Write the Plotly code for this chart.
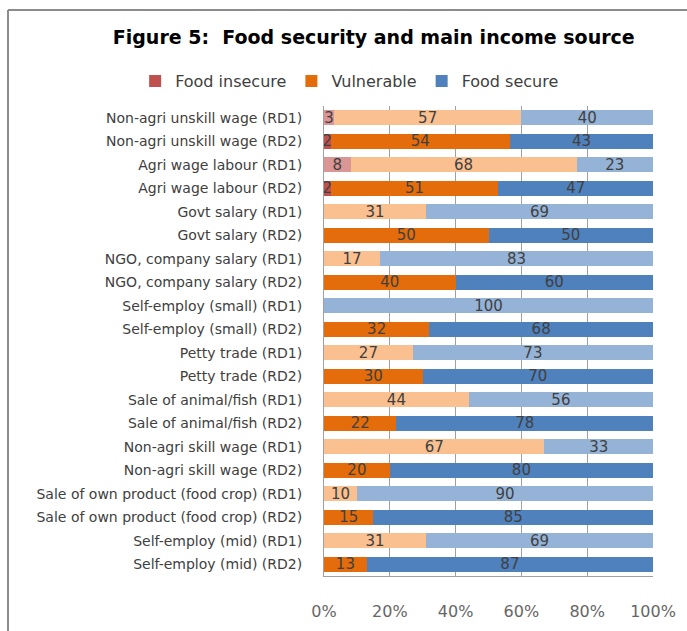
import plotly.graph_objects as go

categories = [
    "Non-agri unskill wage (RD1)", "Non-agri unskill wage (RD2)",
    "Agri wage labour (RD1)", "Agri wage labour (RD2)",
    "Govt salary (RD1)", "Govt salary (RD2)",
    "NGO, company salary (RD1)", "NGO, company salary (RD2)",
    "Self-employ (small) (RD1)", "Self-employ (small) (RD2)",
    "Petty trade (RD1)", "Petty trade (RD2)",
    "Sale of animal/fish (RD1)", "Sale of animal/fish (RD2)",
    "Non-agri skill wage (RD1)", "Non-agri skill wage (RD2)",
    "Sale of own product (food crop) (RD1)", "Sale of own product (food crop) (RD2)",
    "Self-employ (mid) (RD1)", "Self-employ (mid) (RD2)",
]
food_insecure = [3, 2, 8, 2, 0, 0, 0, 0, 0, 0, 0, 0, 0, 0, 0, 0, 0, 0, 0, 0]
vulnerable = [57, 54, 68, 51, 31, 50, 17, 40, 0, 32, 27, 30, 44, 22, 67, 20, 10, 15, 31, 13]
food_secure = [40, 43, 23, 47, 69, 50, 83, 60, 100, 68, 73, 70, 56, 78, 33, 80, 90, 85, 69, 87]
x_ticks = [0, 20, 40, 60, 80, 100]
x_tick_labels = ["0%", "20%", "40%", "60%", "80%", "100%"]

series = [
    ("Food insecure", food_insecure, "#D99694", "#C0504D"),
    ("Vulnerable", vulnerable, "#FAC090", "#E46C0A"),
    ("Food secure", food_secure, "#95B3D7", "#4F81BD"),
]

TXT = "#404040"
FONT = "DejaVu Sans"

fig = go.Figure()
for name, vals, light, dark in series:
    for rd, color, show in (("RD1", light, False), ("RD2", dark, True)):
        cats = [c for c in categories if c.endswith("(%s)" % rd)]
        v = [vals[categories.index(c)] for c in cats]
        fig.add_trace(go.Bar(
            y=cats, x=v, orientation="h", name=name,
            marker=dict(color=color, line=dict(width=0)),
            text=[str(a) if a else "" for a in v],
            textposition="inside", insidetextanchor="middle",
            textangle=0, constraintext="none",
            textfont=dict(family=FONT, size=15, color=TXT),
            showlegend=show, legendgroup=name,
        ))

frame = dict(color="#8C8C8C", width=2)
fig.update_layout(
    width=687, height=631,
    margin=dict(l=324, r=34, t=106, b=55, autoexpand=False),
    barmode="stack", barnorm="percent", bargap=0.36,
    paper_bgcolor="white", plot_bgcolor="white",
    font=dict(family=FONT, color=TXT),
    title=dict(text="<b>Figure 5:  Food security and main income source</b>",
               xref="container", yref="container", x=0.544, y=0.941,
               xanchor="center", yanchor="middle",
               font=dict(family=FONT, size=19, color="black")),
    legend=dict(orientation="h", xref="paper", yref="paper",
                x=-0.574, y=1.053, xanchor="left", yanchor="middle",
                font=dict(family=FONT, size=16, color=TXT),
                itemwidth=30, traceorder="normal", bgcolor="rgba(0,0,0,0)"),
    xaxis=dict(range=[0, 100], tickvals=x_ticks, ticktext=x_tick_labels,
               showgrid=True, gridcolor="#A0A0A0", gridwidth=1,
               showline=True, linecolor="#A0A0A0", linewidth=1,
               ticks="outside", ticklen=21, tickcolor="rgba(0,0,0,0)",
               tickfont=dict(family=FONT, size=16, color="#666666"),
               zeroline=False, fixedrange=True),
    yaxis=dict(type="category", categoryorder="array", categoryarray=categories,
               autorange="reversed", showgrid=False,
               showline=True, linecolor="#A0A0A0", linewidth=1,
               ticks="outside", ticklen=18, tickcolor="rgba(0,0,0,0)",
               tickfont=dict(family=FONT, size=14, color=TXT)),
    shapes=[
        dict(type="line", xref="paper", yref="paper",
             x0=-0.9605, x1=1.2, y0=1.204, y1=1.204, line=frame, layer="below"),
        dict(type="line", xref="paper", yref="paper",
             x0=-0.9605, x1=-0.9605, y0=-0.2, y1=1.204, line=frame, layer="below"),
    ],
)

fig.write_html("out.html", config={"displayModeBar": False})
